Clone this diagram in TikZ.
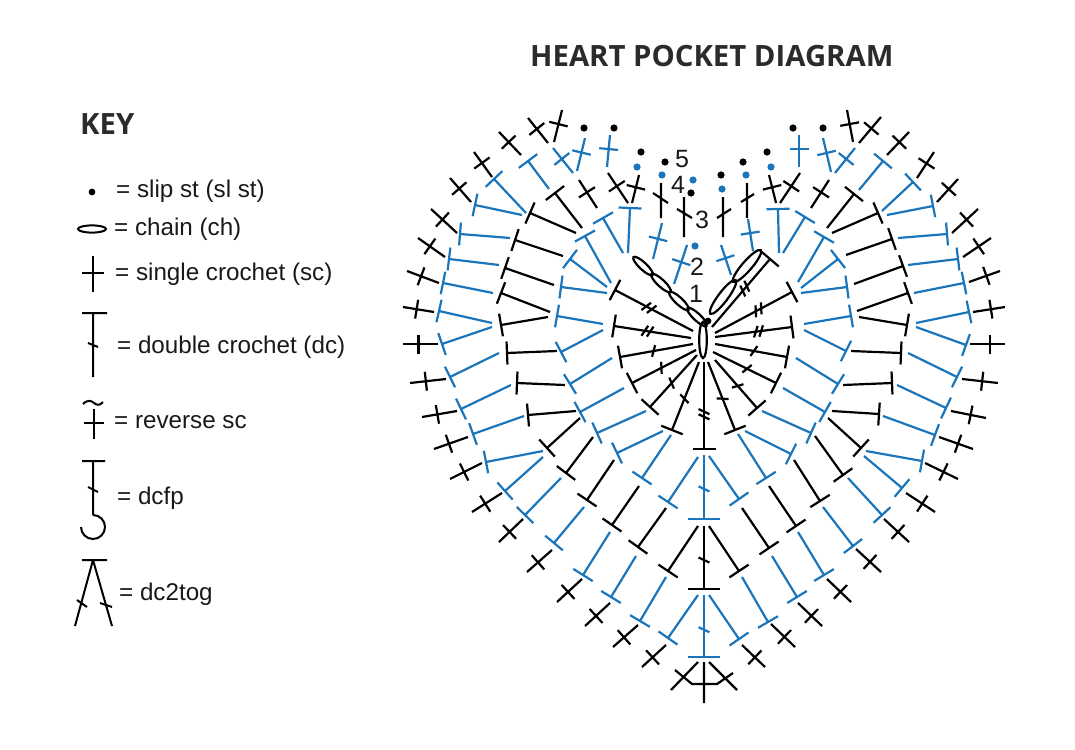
\documentclass[tikz,border=0pt]{standalone}
\usepackage{fontspec}
\setmainfont{Liberation Sans}
\newfontfamily\headfont{Open Sans}
\usepackage{xcolor}
\usetikzlibrary{calc}

\definecolor{rowblue}{HTML}{1B75BB}
\definecolor{headgray}{HTML}{2B2B2D}

% stitches: base x, base y, top x, top y
\newcommand{\dcst}[4]{\draw (#1,#2) -- (#3,#4) ($(#3,#4)!11.5pt!90:(#1,#2)$) -- ($(#3,#4)!11.5pt!-90:(#1,#2)$);}
\newcommand{\scst}[4]{%
  \coordinate (m) at ($(#1,#2)!.56!(#3,#4)$);
  \draw (#1,#2) -- (#3,#4) ($(m)!9.5pt!90:(#3,#4)$) -- ($(m)!9.5pt!-90:(#3,#4)$);}
\newcommand{\tickst}[5]{%
  \coordinate (m) at ($(#1,#2)!#5!(#3,#4)$);
  \draw ($(m)!6pt!65:(#3,#4)$) -- ($(m)!6pt!-115:(#3,#4)$);}

\begin{document}
\begin{tikzpicture}[
  x=1pt, y=-1pt,
  stitch/.style={line width=2.2pt},
  blackrow/.style={stitch, black},
  bluerow/.style={stitch, rowblue},
  keyline/.style={line width=2pt, black},
  keytext/.style={anchor=base west, font=\fontsize{24.2}{28}\selectfont, text=black!90, inner sep=0pt},
  rownum/.style={font=\fontsize{25}{28}\selectfont, text=black!90, inner sep=0pt},
  heading/.style={anchor=base west, inner sep=0pt, text=headgray, font=\headfont\bfseries\fontsize{29.3}{32}\selectfont},
]
\useasboundingbox (0,0) rectangle (1075,749);

% titles
\node[heading] (title) at (530,67) {HEART POCKET DIAGRAM};
\node[heading] (keytitle) at (80,134) {KEY};

% key
\fill (92,192) circle (3.4);
\draw[keyline] (92,229) ellipse (14 and 3.6);
\draw[keyline] (93,256) -- (93,292) (82,273) -- (104,273);
\draw[keyline] (82,313) -- (107,313) (93,313) -- (93,377) (88,343) -- (98,347);
\draw[keyline] (83,404) .. controls (88,399) and (92,401) .. (94,403) .. controls (96,405) and (100,406) .. (103,402);
\draw[keyline] (94,409) -- (94,439) (84,423) -- (104,423);
\draw[keyline] (82,461) -- (105,461) (93,461) -- (93,515) (88,487) -- (98,492);
\draw[keyline] (93,515) arc (-90:180:12);
\draw[keyline] (82,560) -- (107,560) (93,560) -- (75,626) (93,560) -- (112,626);
\draw[keyline] (77,600) -- (87,607) (100,603) -- (112,607);
\node[keytext] (slip) at (116,197) {= slip st (sl st)};
\node[keytext] (chain) at (114,235) {= chain (ch)};
\node[keytext] (single) at (115,280) {= single crochet (sc)};
\node[keytext] (double) at (117,353) {= double crochet (dc)};
\node[keytext] (reverse) at (114,428) {= reverse sc};
\node[keytext] (dcfp) at (117,504) {= dcfp};
\node[keytext] (tog) at (119,600) {= dc2tog};

% row numbers
\node[rownum] (num5) at (682,159) {5};
\node[rownum] (num4) at (678,185) {4};
\node[rownum] (num3) at (702,220) {3};
\node[rownum] (num2) at (697,267) {2};
\node[rownum] (num1) at (696,294) {1};

% row 1
\begin{scope}[blackrow]
\foreach \bx/\by/\tx/\ty in {693/331/615/290, 691/338/614/326, 715/333/792/292, 715/337/792/327, 712/327/770/259} {
  \dcst{\bx}{\by}{\tx}{\ty}
  \tickst{\bx}{\by}{\tx}{\ty}{.53}
  \tickst{\bx}{\by}{\tx}{\ty}{.6}
}
\foreach \bx/\by/\tx/\ty in {693/344/620/357, 696/350/632/383, 697/355/650/407, 699/362/672/430, 715/344/787/357, 713/352/776/383, 715/360/757/408, 708/362/735/430} {
  \dcst{\bx}{\by}{\tx}{\ty}
  \tickst{\bx}{\by}{\tx}{\ty}{.54}
}
\dcst{704}{362}{704}{449}
\tickst{704}{362}{704}{449}{.57}
\tickst{704}{362}{704}{449}{.63}
% chains
\foreach \cx/\cy in {643/266, 661/283, 679/301, 697/317}
  \draw[rotate around={-43:(\cx,\cy)}] (\cx,\cy) ellipse (13 and 3.6);
\draw[rotate around={53:(723,297)}] (723,297) ellipse (21 and 4.8);
\draw[rotate around={49:(747,266)}] (747,266) ellipse (21 and 4.8);
\draw (703,340) ellipse (3.8 and 18);
\fill (708,321) circle (3.4);
\end{scope}

% row 2
\begin{scope}[bluerow]
\foreach \bx/\by/\tx/\ty in {628/253/630/208, 623/253/603/218, 611/283/585/236, 607/287/570/259, 607/293/561/287, 603/324/557/316, 603/330/561/352, 612/358/570/384, 624/388/580/412, 646/411/597/433, 663/431/617/453, 671/435/642/478, 698/457/668/502,
  779/253/778/209, 783/253/805/217, 798/282/824/237, 801/288/838/259, 801/293/847/287, 804/324/851/316, 804/330/846/351, 796/358/838/384, 783/388/825/412, 762/411/811/433, 745/431/791/454, 738/434/766/478, 709/456/739/499}
  \dcst{\bx}{\by}{\tx}{\ty};
\foreach \bx/\by/\tx/\ty in {653/259/662/223, 674/284/687/245, 731/275/721/245, 753/251/748/219}
  \scst{\bx}{\by}{\tx}{\ty};
\draw (704,455) -- (704,519) (688,519) -- (720,519);
\tickst{704}{455}{704}{519}{.53}
\foreach \dx/\dy in {695/246, 637/167, 662/175, 693/180, 722/189, 746/175, 771/167}
  \fill (\dx,\dy) circle (3.6);
\end{scope}

% row 3
\begin{scope}[blackrow]
\foreach \bx/\by/\tx/\ty in {582/228/555/193, 576/233/530/213, 563/256/515/240, 554/285/505/268, 550/312/501/293, 548/317/501/325, 557/351/507/353, 565/385/517/383, 576/411/528/415, 580/418/547/448, 593/437/566/473, 614/460/587/500, 639/486/612/525, 666/508/638/547, 698/526/668/571,
  827/228/854/194, 832/233/878/213, 846/255/892/239, 854/284/903/266, 857/311/908/293, 859/317/907/325, 851/351/901/353, 843/385/892/383, 832/411/879/414, 828/418/861/448, 815/436/843/475, 794/460/820/501, 769/486/796/526, 742/508/769/548, 709/526/739/571}
  \dcst{\bx}{\by}{\tx}{\ty};
\foreach \bx/\by/\tx/\ty in {597/208/579/180, 628/203/608/173, 632/203/639/175, 776/203/769/175, 780/203/800/173, 811/208/829/180}
  \scst{\bx}{\by}{\tx}{\ty};
% slanted bars beside the numbers
\foreach \bx/\by/\tx/\ty/\ax/\ay/\cx/\cy in {661/218/661/183/653/193/668/203, 684/237/684/197/677/209/692/218, 723/237/723/197/717/218/731/209, 747/218/747/183/741/202/754/194}
  \draw (\bx,\by) -- (\tx,\ty) (\ax,\ay) -- (\cx,\cy);
\draw (704,526) -- (704,589) (688,589) -- (720,589);
\tickst{704}{526}{704}{589}{.54}
\foreach \dx/\dy in {641/152, 665/162, 691/193, 721/175, 743/162, 767/152}
  \fill (\dx,\dy) circle (3.6);
\end{scope}

% row 4
\begin{scope}[bluerow]
\foreach \bx/\by/\tx/\ty in {549/189/528/161, 526/213/494/179, 522/215/475/205, 510/238/460/234, 499/265/449/259, 493/293/443/283, 492/323/439/311, 492/327/442/344, 499/353/450/377, 511/385/461/409, 524/416/473/434, 543/451/486/462, 543/457/505/491, 561/478/525/515, 584/507/554/543, 610/532/583/575, 636/556/611/597, 666/577/640/621, 698/595/668/638,
  859/190/883/161, 882/211/913/182, 887/215/933/206, 898/238/947/234, 908/265/958/259, 914/293/964/283, 916/323/969/312, 916/327/966/345, 908/353/957/377, 897/385/946/408, 883/416/935/435, 866/451/922/461, 864/456/902/488, 848/478/882/515, 823/507/853/546, 798/532/824/575, 772/556/797/597, 742/577/768/622, 709/595/739/639}
  \dcst{\bx}{\by}{\tx}{\ty};
\foreach \bx/\by/\tx/\ty in {607/167/610/135, 577/171/585/138, 573/173/553/148, 799/167/799/135, 831/172/823/138, 835/173/855/148}
  \scst{\bx}{\by}{\tx}{\ty};
\draw (704,595) -- (704,657) (688,657) -- (720,657);
\tickst{704}{595}{704}{657}{.56}
\end{scope}

% row 5
\begin{scope}[blackrow]
\foreach \bx/\by/\tx/\ty in {554/142/562/110, 548/143/528/118, 521/155/499/132, 492/177/474/152, 471/202/450/178, 457/233/431/209, 445/257/418/238, 439/283/407/271, 434/312/403/307, 438/344/403/344, 446/379/410/383, 457/411/422/417, 468/437/434/449, 482/463/450/479, 502/493/472/512, 523/519/499/542, 552/550/527/572, 582/579/557/602, 610/603/585/626, 638/625/613/647, 666/645/642/667,
  853/142/847/110, 859/143/881/117, 887/155/909/132, 917/178/934/152, 937/202/958/179, 952/233/978/209, 963/257/991/238, 969/282/1000/271, 973/312/1005/307, 970/344/1005/344, 962/379/998/383, 951/411/986/418, 939/437/973/449, 925/463/958/479, 906/493/935/512, 884/519/909/542, 856/549/881/572, 827/579/851/602, 798/603/822/626, 771/624/795/647, 742/645/765/667}
  \scst{\bx}{\by}{\tx}{\ty};
\foreach \dx/\dy in {584/128, 614/128, 793/128, 823/128}
  \fill (\dx,\dy) circle (3.6);
% bottom point
\draw (704,662) -- (704,703) (698,662) -- (671,690) (709,662) -- (737,690);
\draw (675,670) -- (692,684) -- (717,684) -- (733,673);
\end{scope}

\end{tikzpicture}
\end{document}
